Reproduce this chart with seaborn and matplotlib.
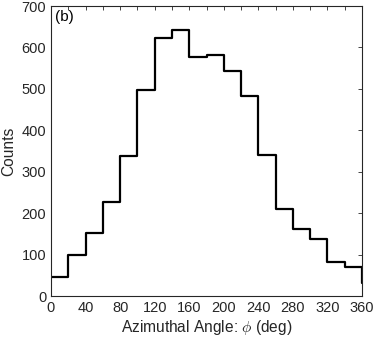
import numpy as np
import pandas as pd
import matplotlib
matplotlib.use("Agg")
import matplotlib.pyplot as plt
import seaborn as sns
from matplotlib.ticker import MultipleLocator

# Data: bin left edges (deg) and counts; final point closes the stairs at 360
angle = [0, 20, 40, 60, 80, 100, 120, 140, 160, 180, 200, 220, 240, 260, 280, 300, 320, 340, 360]
counts = [46, 100, 153, 228, 337, 497, 622, 643, 576, 581, 542, 483, 341, 210, 161, 138, 81, 69, 32]

xticks = [0, 40, 80, 120, 160, 200, 240, 280, 320, 360]
yticks = [0, 100, 200, 300, 400, 500, 600, 700]

sns.set_style("white")
plt.rcParams['font.family'] = ['Liberation Sans', 'DejaVu Sans']
plt.rcParams['mathtext.fontset'] = 'cm'

df = pd.DataFrame({"angle": angle, "counts": counts})

fig = plt.figure(figsize=(3.74, 3.41), dpi=100)
ax = fig.add_axes([51/374, 45/341, (362-51)/374, (296-6)/341])
sns.lineplot(data=df, x="angle", y="counts", drawstyle="steps-post",
             color="black", linewidth=1.6, ax=ax)

ax.set_xlim(0, 360)
ax.set_ylim(0, 700)
ax.set_xticks(xticks)
ax.set_yticks(yticks)
ax.xaxis.set_minor_locator(MultipleLocator(20))
ax.tick_params(axis='both', which='both', direction='in', top=True, right=True,
               labelsize=10.5, colors='#262626', length=3, width=0.6)
ax.tick_params(axis='both', which='minor', length=3)
for s in ax.spines.values():
    s.set_color('#262626')
    s.set_linewidth(0.8)
ax.set_xlabel(r"Azimuthal Angle: $\phi$ (deg)", fontsize=11.2, color='#262626', labelpad=2)
ax.set_ylabel("Counts", fontsize=11.2, color='#262626', labelpad=4)
ax.text(0.012, 0.985, "(b)", transform=ax.transAxes, ha='left', va='top',
        fontsize=11, color='black')

fig.savefig("out.png", dpi=100)
